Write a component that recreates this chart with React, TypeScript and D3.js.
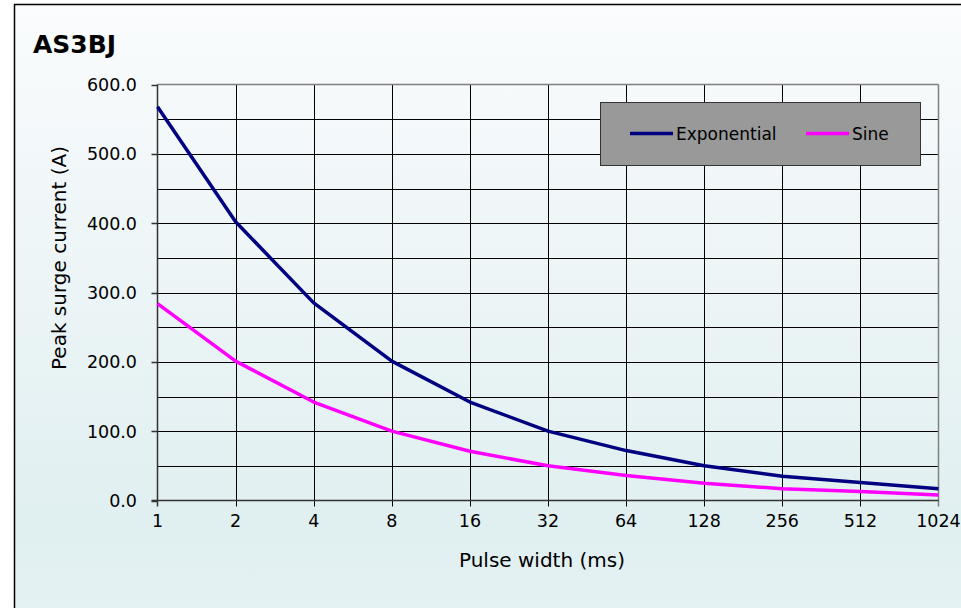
import { useRef, useEffect } from 'react';
import { select, scalePoint, scaleLinear, line, range } from 'd3';

const pulseWidths = ['1', '2', '4', '8', '16', '32', '64', '128', '256', '512', '1024'];
const exponential = [568, 402, 285, 201, 142, 100, 72, 50, 35, 26, 17];
const sine = [284, 201, 142, 100, 71, 50, 36, 25, 17, 13, 8];
const yTicks = [0, 100, 200, 300, 400, 500, 600];
const seriesNames = ['Exponential', 'Sine'];
const seriesColors = ['#000080', '#ff00ff'];

const W = 961;
const H = 608;
const FONT = '"DejaVu Sans", Verdana, sans-serif';

export default function App() {
    const svgRef = useRef<SVGSVGElement | null>(null);

    useEffect(() => {
        document.body.style.margin = '0';
        const svg = select(svgRef.current);
        svg.selectAll('*').remove();

        const m = { left: 157.5, right: 938.5, top: 84.5, bottom: 500.5 };
        const x = scalePoint().domain(pulseWidths).range([m.left, m.right]);
        const y = scaleLinear().domain([0, 600]).range([m.bottom, m.top]);

        const defs = svg.append('defs');
        const grad = defs.append('linearGradient').attr('id', 'bg').attr('x1', 0).attr('y1', 0).attr('x2', 0).attr('y2', 1);
        grad.append('stop').attr('offset', '0%').attr('stop-color', '#fafcfd');
        grad.append('stop').attr('offset', '25%').attr('stop-color', '#f1f7f9');
        grad.append('stop').attr('offset', '75%').attr('stop-color', '#e0eff0');
        grad.append('stop').attr('offset', '100%').attr('stop-color', '#eaf5f6');

        svg.append('rect').attr('width', W).attr('height', H).attr('fill', '#ffffff');
        svg.append('rect')
            .attr('x', 14.5).attr('y', 4.5)
            .attr('width', 1000).attr('height', 700)
            .attr('fill', 'url(#bg)')
            .attr('stroke', '#000').attr('stroke-width', 1.5);

        // title
        svg.append('text')
            .attr('x', 33).attr('y', 53)
            .attr('font-family', FONT).attr('font-size', 25).attr('font-weight', 'bold')
            .attr('fill', '#000')
            .text('AS3BJ');

        // horizontal grid every 50
        svg.append('g').selectAll('line')
            .data(range(50, 600, 50))
            .join('line')
            .attr('x1', m.left).attr('x2', m.right)
            .attr('y1', (d) => Math.round(y(d)) + 0.5).attr('y2', (d) => Math.round(y(d)) + 0.5)
            .attr('stroke', '#000').attr('stroke-width', 1);

        // vertical grid
        svg.append('g').selectAll('line')
            .data(pulseWidths.slice(1, -1))
            .join('line')
            .attr('x1', (d) => Math.round(x(d) || 0) + 0.5).attr('x2', (d) => Math.round(x(d) || 0) + 0.5)
            .attr('y1', m.top).attr('y2', m.bottom + 6)
            .attr('stroke', '#000').attr('stroke-width', 1);

        // plot border
        svg.append('line').attr('x1', m.left).attr('x2', m.right).attr('y1', m.top).attr('y2', m.top)
            .attr('stroke', '#808080').attr('stroke-width', 1.5);
        svg.append('line').attr('x1', m.right).attr('x2', m.right).attr('y1', m.top).attr('y2', m.bottom + 6)
            .attr('stroke', '#808080').attr('stroke-width', 1.5);
        svg.append('line').attr('x1', m.left).attr('x2', m.left).attr('y1', m.top).attr('y2', m.bottom + 6)
            .attr('stroke', '#333').attr('stroke-width', 1.5);
        svg.append('line').attr('x1', m.left - 6).attr('x2', m.right).attr('y1', m.bottom).attr('y2', m.bottom)
            .attr('stroke', '#333').attr('stroke-width', 1.5);

        // y ticks
        const yAxis = svg.append('g');
        yAxis.selectAll('line')
            .data(yTicks)
            .join('line')
            .attr('x1', m.left - 6).attr('x2', m.left)
            .attr('y1', (d) => Math.round(y(d)) + 0.5).attr('y2', (d) => Math.round(y(d)) + 0.5)
            .attr('stroke', '#333').attr('stroke-width', 1.5);
        yAxis.selectAll('text')
            .data(yTicks)
            .join('text')
            .attr('x', 137).attr('y', (d) => y(d) + 6.5)
            .attr('text-anchor', 'end')
            .attr('font-family', FONT).attr('font-size', 17.5).attr('fill', '#000')
            .text((d) => d.toFixed(1));

        // x labels
        svg.append('g').selectAll('text')
            .data(pulseWidths)
            .join('text')
            .attr('x', (d) => x(d) || 0).attr('y', 527)
            .attr('text-anchor', 'middle')
            .attr('font-family', FONT).attr('font-size', 17.5).attr('fill', '#000')
            .text((d) => d);

        // axis titles
        svg.append('text')
            .attr('x', 542).attr('y', 567)
            .attr('text-anchor', 'middle')
            .attr('font-family', FONT).attr('font-size', 20).attr('fill', '#000')
            .text('Pulse width (ms)');
        svg.append('text')
            .attr('transform', 'translate(66,258) rotate(-90)')
            .attr('text-anchor', 'middle')
            .attr('font-family', FONT).attr('font-size', 20).attr('fill', '#000')
            .text('Peak surge current (A)');

        // series
        const lineGen = line<number>()
            .x((d, i) => x(pulseWidths[i]) || 0)
            .y((d) => y(d));
        [exponential, sine].forEach((s, i) => {
            svg.append('path')
                .datum(s)
                .attr('d', lineGen)
                .attr('fill', 'none')
                .attr('stroke', seriesColors[i])
                .attr('stroke-width', 3.5)
                .attr('stroke-linejoin', 'round');
        });

        // legend
        const lg = svg.append('g');
        lg.append('rect')
            .attr('x', 600.5).attr('y', 102.5).attr('width', 320).attr('height', 63)
            .attr('fill', '#999999').attr('stroke', '#333').attr('stroke-width', 1);
        const legendX = [630, 806];
        seriesNames.forEach((name, i) => {
            lg.append('line')
                .attr('x1', legendX[i]).attr('x2', legendX[i] + 43)
                .attr('y1', 133.5).attr('y2', 133.5)
                .attr('stroke', seriesColors[i]).attr('stroke-width', 3.5);
            lg.append('text')
                .attr('x', legendX[i] + 46).attr('y', 140)
                .attr('font-family', FONT).attr('font-size', 17).attr('fill', '#000')
                .text(name);
        });
    }, []);

    return (
        <svg
            ref={svgRef}
            width={W}
            height={H}
            style={{ position: 'absolute', left: 0, top: 0, display: 'block' }}
        />
    );
}
